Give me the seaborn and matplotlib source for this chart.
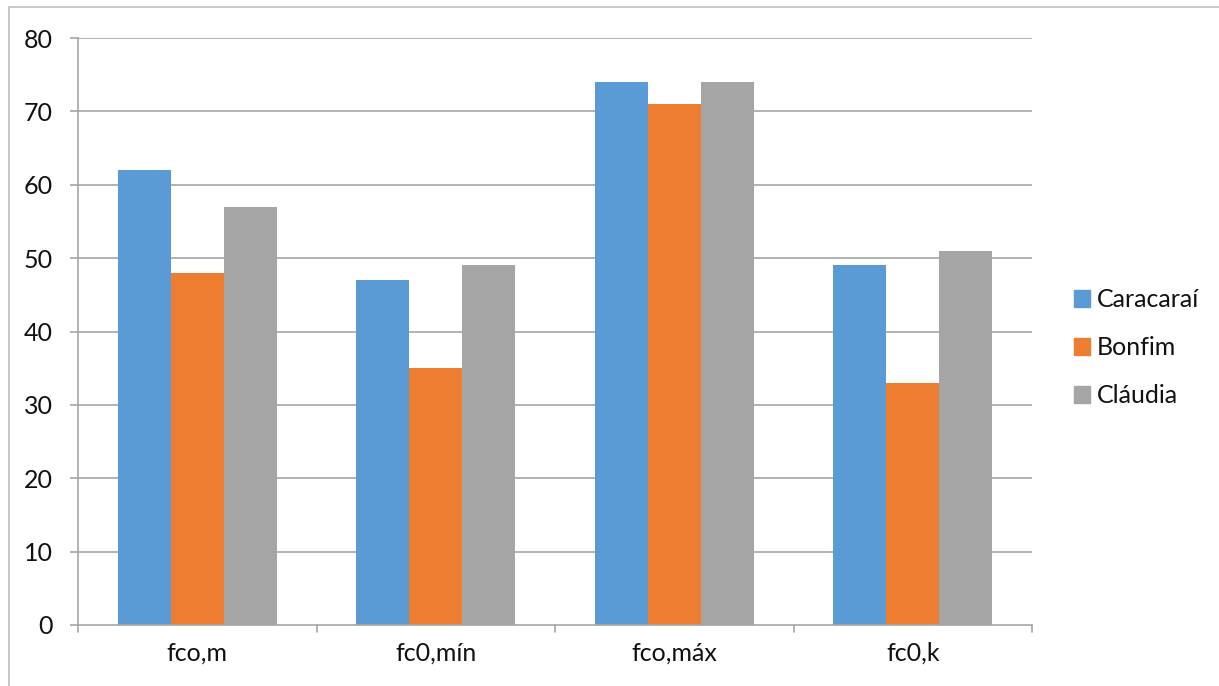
import matplotlib
matplotlib.use("Agg")
import matplotlib.pyplot as plt
import matplotlib.patches as mpatches
import seaborn as sns
import pandas as pd

categories = ["fco,m", "fc0,mín", "fco,máx", "fc0,k"]
series = ["Caracaraí", "Bonfim", "Cláudia"]
caracarai = [62, 47, 74, 49]
bonfim = [48, 35, 71, 33]
claudia = [57, 49, 74, 51]
yticks = [0, 10, 20, 30, 40, 50, 60, 70, 80]

colors = ["#5B9BD5", "#ED7D31", "#A5A5A5"]
grid_color = "#A6A6A6"
text_color = "#111111"
fs = 18

rows = []
for name, vals in zip(series, [caracarai, bonfim, claudia]):
    for cat, v in zip(categories, vals):
        rows.append({"cat": cat, "serie": name, "valor": v})
df = pd.DataFrame(rows)

sns.set_theme(style="white")
plt.rcParams["font.family"] = ["Lato", "DejaVu Sans"]

W, H = 1219, 686
fig = plt.figure(figsize=(W / 100, H / 100), dpi=100)
ax = fig.add_axes([78 / W, 1 - 625 / H, (1032 - 78) / W, (625 - 38) / H])

sns.barplot(data=df, x="cat", y="valor", hue="serie", order=categories,
            hue_order=series, palette=colors, width=0.667, saturation=1,
            gap=0, edgecolor="none", linewidth=0, ax=ax, zorder=3)

ax.set_xlim(-0.5, len(categories) - 0.5)
ax.set_ylim(0, 80)
ax.set_yticks(yticks)
ax.set_yticklabels([str(t) for t in yticks], fontsize=fs, color=text_color)
ax.set_xlabel("")
ax.set_ylabel("")
ax.tick_params(axis="x", length=0, pad=12, labelsize=fs, labelcolor=text_color)
ax.tick_params(axis="y", length=6, width=1.2, color=grid_color, pad=12,
               direction="out", left=True)

for t in yticks[1:]:
    ax.axhline(t, color=grid_color, lw=1.2, zorder=1)

for s in ["top", "right"]:
    ax.spines[s].set_visible(False)
for s in ["left", "bottom"]:
    ax.spines[s].set_color(grid_color)
    ax.spines[s].set_linewidth(1.2)
    ax.spines[s].set_zorder(4)

# category boundary ticks below the axis
for b in [i - 0.5 for i in range(len(categories) + 1)]:
    ax.plot([b, b], [0, -1.0], color=grid_color, lw=1.2, clip_on=False, zorder=4)

handles = [mpatches.Patch(color=c, label=n) for c, n in zip(colors, series)]
leg = ax.legend(handles=handles, loc="center left", bbox_to_anchor=(1.02, 0.472),
                frameon=False, fontsize=fs, handlelength=0.64, handleheight=0.64,
                handletextpad=0.3, labelspacing=1.0)
for txt in leg.get_texts():
    txt.set_color(text_color)

# outer chart border (top and left edges)
fig.add_artist(plt.Line2D([9 / W, 9 / W], [0, 1 - 7 / H], color="#BFBFBF",
                          lw=1.2, transform=fig.transFigure))
fig.add_artist(plt.Line2D([9 / W, 1], [1 - 7 / H, 1 - 7 / H], color="#BFBFBF",
                          lw=1.2, transform=fig.transFigure))

fig.savefig("out.png", dpi=100, facecolor="white")
